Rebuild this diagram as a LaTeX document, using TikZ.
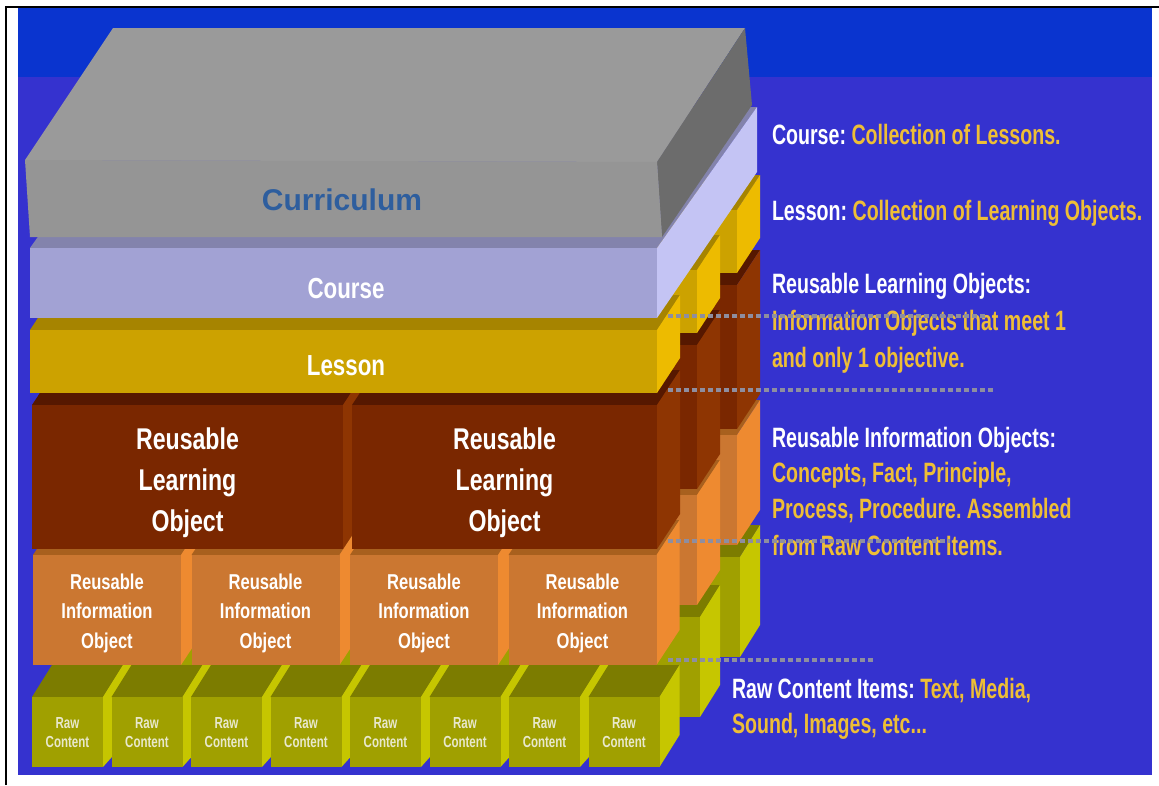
\documentclass[tikz,border=0pt]{standalone}
\usepackage{fontspec}
\setmainfont{Liberation Sans}
\newfontfamily\fR{Liberation Sans}[FakeStretch=0.70]
\newfontfamily\fL{Liberation Sans}[FakeStretch=0.77]
\newfontfamily\fS{Liberation Sans}[FakeStretch=0.72]
\definecolor{bgtop}{HTML}{0A34CF}
\definecolor{bgmain}{HTML}{3532CF}
\definecolor{cuTop}{HTML}{9A9A9A}
\definecolor{cuFront}{HTML}{959595}
\definecolor{cuRight}{HTML}{6C6C6C}
\definecolor{coTop}{HTML}{8383AC}
\definecolor{coFront}{HTML}{A2A2D4}
\definecolor{coRight}{HTML}{C4C4F4}
\definecolor{leTop}{HTML}{A68400}
\definecolor{leFront}{HTML}{CCA200}
\definecolor{leRight}{HTML}{EDBB00}
\definecolor{rlTop}{HTML}{561800}
\definecolor{rlFront}{HTML}{7A2700}
\definecolor{rlRight}{HTML}{8E3502}
\definecolor{riTop}{HTML}{A8601E}
\definecolor{riFront}{HTML}{CB7731}
\definecolor{riRight}{HTML}{EE8A30}
\definecolor{rwTop}{HTML}{7C7C00}
\definecolor{rwFront}{HTML}{A0A000}
\definecolor{rwRight}{HTML}{C6C600}
\definecolor{gold}{HTML}{EEBE36}
\definecolor{curtxt}{HTML}{2E5E9E}
\definecolor{dashgray}{HTML}{8E8EA0}
\definecolor{rawtxt}{HTML}{E8E8CC}
\frenchspacing
% x0 x1 ytop ybot dx dy topcolour frontcolour rightcolour
\newcommand\mybox[9]{%
  \fill[#7] (#1,#3) -- (#2,#3) -- ({#2+#5},{#3+#6}) -- ({#1+#5},{#3+#6}) -- cycle;
  \fill[#9] (#2,#3) -- ({#2+#5},{#3+#6}) -- ({#2+#5},{#4+#6}) -- (#2,#4) -- cycle;
  \fill[#8] (#1,#3) rectangle (#2,#4);
}
\tikzset{
  lbl/.style={text=white, anchor=base, inner sep=0pt, outer sep=0pt},
  big/.style={lbl, font={\fL\bfseries\fontsize{29}{34}\selectfont}},
  rlolbl/.style={lbl, font={\fL\bfseries\fontsize{30}{36}\selectfont}},
  riolbl/.style={lbl, font={\fL\bfseries\fontsize{21.5}{26}\selectfont}},
  rawlbl/.style={lbl, text=rawtxt, font={\fS\bfseries\fontsize{16}{19}\selectfont}},
  side/.style={anchor=base west, inner sep=0pt, outer sep=0pt, text=white, font={\frenchspacing\fR\bfseries\fontsize{28}{34}\selectfont}},
  dashln/.style={dashgray, line width=4.5pt, dash pattern=on 5pt off 3pt}
}
\begin{document}
\begin{tikzpicture}[x=1pt,y=-1pt]
\useasboundingbox (0,0) rectangle (1159,785);
\fill[white] (0,0) rectangle (1159,785);
\fill[bgmain] (18,8) rectangle (1152,775);
\fill[bgtop] (18,8) rectangle (1152,77);
\draw[black, line width=2pt] (5.5,785) -- (5.5,6.5) -- (1159,6.5);

% back rows
\foreach \k in {2,1}{
  \mybox{32+40*\k}{660+40*\k}{677-60*\k}{777-60*\k}{20}{-32}{rwTop}{rwFront}{rwRight}
  \mybox{33+40*\k}{657+40*\k}{555-60*\k}{665-60*\k}{23}{-35}{riTop}{riFront}{riRight}
  \mybox{32+40*\k}{657+40*\k}{405-60*\k}{549-60*\k}{23}{-35}{rlTop}{rlFront}{rlRight}
  \mybox{30+40*\k}{657+40*\k}{330-60*\k}{393-60*\k}{23}{-35}{leTop}{leFront}{leRight}
}

% front row: raw content cubes
\foreach \i in {0,...,7}{
  \pgfmathsetmacro\xa{32+79.5*\i}
  \pgfmathsetmacro\xb{\xa+71}
  \fill[rwTop] (\xa,697) -- (\xb,697) -- (\xb+20,665) -- (\xa+20,665) -- cycle;
  \ifnum\i<7
    \fill[rwRight] (\xb,767) -- (\xb,697) -- (\xb+20,665) -- (\xb+28.5,665) -- (\xb+28.5,735) -- cycle;
  \else
    \fill[rwRight] (\xb,697) -- (\xb+20,665) -- (\xb+20,735) -- (\xb,767) -- cycle;
  \fi
  \fill[rwFront] (\xa,697) rectangle (\xb,767);
  \node[rawlbl] (rawA\i) at ({(\xa+\xb)/2},728) {Raw};
  \node[rawlbl] (rawB\i) at ({(\xa+\xb)/2},747.5) {Content};
}

% front row: reusable information objects
\foreach \i in {0,...,3}{
  \pgfmathsetmacro\xa{33+158.5*\i}
  \pgfmathsetmacro\xb{\xa+148}
  \mybox{\xa}{\xb}{555}{665}{23}{-35}{riTop}{riFront}{riRight}
  \node[riolbl] (rioA\i) at ({(\xa+\xb)/2},589.5) {Reusable};
  \node[riolbl] (rioB\i) at ({(\xa+\xb)/2},618.5) {Information};
  \node[riolbl] (rioC\i) at ({(\xa+\xb)/2},648.5) {Object};
}

% front row: reusable learning objects
\mybox{32}{343}{405}{549}{23}{-35}{rlTop}{rlFront}{rlRight}
\mybox{352}{657}{405}{549}{23}{-35}{rlTop}{rlFront}{rlRight}
\node[rlolbl] (rloA1) at (187.5,449) {Reusable};
\node[rlolbl] (rloB1) at (187.5,490.5) {Learning};
\node[rlolbl] (rloC1) at (187.5,531.5) {Object};
\node[rlolbl] (rloA2) at (504.5,449) {Reusable};
\node[rlolbl] (rloB2) at (504.5,490.5) {Learning};
\node[rlolbl] (rloC2) at (504.5,531.5) {Object};

% lesson
\mybox{30}{657}{330}{393}{23}{-35}{leTop}{leFront}{leRight}
\node[big] (lesson) at (346,375) {Lesson};

% course
\fill[coTop] (30,248) -- (657,248) -- (757,107) -- (130,107) -- cycle;
\fill[coRight] (657,248) -- (757,107) -- (757,172) -- (657,318) -- cycle;
\fill[coFront] (30,248) rectangle (657,318);
\node[big] (course) at (346,298.5) {Course};

% curriculum
\fill[cuTop] (25,160) -- (113,28) -- (745,28) -- (657,162) -- cycle;
\fill[cuRight] (657,162) -- (745,28) -- (752,105) -- (662,237) -- cycle;
\fill[cuFront] (25,160) -- (657,162) -- (662,237) -- (30,237) -- cycle;
\node[lbl, text=curtxt, font={\bfseries\fontsize{30}{36}\selectfont}] (curr) at (342,210) {Curriculum};

% side texts
\node[side] (t1) at (772,144) {Course: \textcolor{gold}{Collection of Lessons.}};
\node[side] (t2) at (772,220) {Lesson: \textcolor{gold}{Collection of Learning Objects.}};
\node[side] (t3) at (772,293) {Reusable Learning Objects:};
\node[side, text=gold] (t4) at (772,330) {Information Objects that meet 1};
\node[side, text=gold] (t5) at (772,367) {and only 1 objective.};
\node[side] (t6) at (772,447) {Reusable Information Objects:};
\node[side, text=gold] (t7) at (772,482) {Concepts, Fact, Principle,};
\node[side, text=gold] (t8) at (772,518) {Process, Procedure. Assembled};
\node[side, text=gold] (t9) at (772,555) {from Raw Content Items.};
\node[side] (t10) at (732,698) {Raw Content Items: \textcolor{gold}{Text, Media,}};
\node[side, text=gold] (t11) at (732,733) {Sound, Images, etc...};

% dashed guide lines
\draw[dashln] (668,316) -- (985,316);
\draw[dashln] (668,390) -- (995,390);
\draw[dashln] (668,541) -- (950,541);
\draw[dashln] (668,660) -- (875,660);
\end{tikzpicture}
\end{document}
